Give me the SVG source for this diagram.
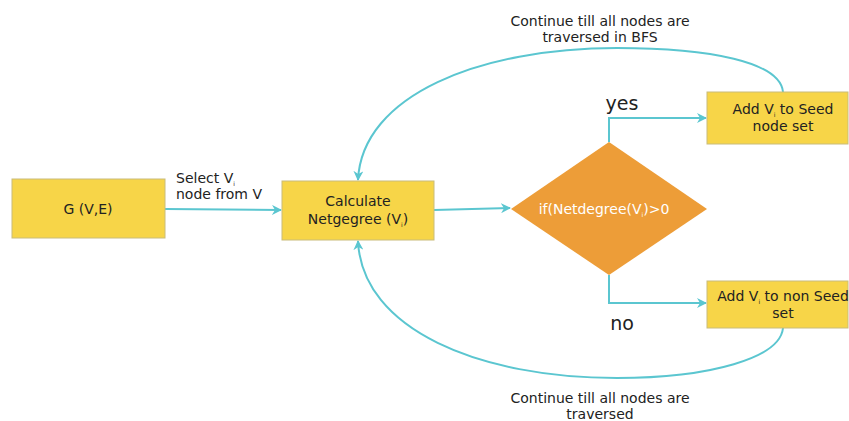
<svg xmlns="http://www.w3.org/2000/svg" width="849" height="421" viewBox="0 0 849 421">
<style>
.box{fill:#F7D548;stroke:#C9BC7A;stroke-width:1}
.dia{fill:#ED9D38;stroke:none}
.t{font-family:"DejaVu Sans",Verdana,sans-serif;font-size:14px;fill:#222;text-anchor:middle}
.w{fill:#fff}
.big{font-family:"DejaVu Sans",Verdana,sans-serif;font-size:19px;fill:#222;text-anchor:middle}
.sub{font-size:6px}
.c{fill:none;stroke:#5BC6D0;stroke-width:2}
</style>
<defs>
<marker id="ah" viewBox="0 0 10 10" refX="9" refY="5" markerWidth="5" markerHeight="5" orient="auto" markerUnits="strokeWidth">
<path d="M0,0 L10,5 L0,10 L3,5 z" fill="#5BC6D0"/>
</marker>
</defs>
<rect width="849" height="421" fill="#fff"/>
<g id="connectors">
<path class="c" d="M165,209 L281,210" marker-end="url(#ah)"/>
<path class="c" d="M434,210 L510,208" marker-end="url(#ah)"/>
<path class="c" d="M609,142 L609,118 L706,118" marker-end="url(#ah)"/>
<path class="c" d="M609,275 L609,303 L706,303" marker-end="url(#ah)"/>
<path class="c" d="M783,92 C780,62 710,48 617,48 C480,48 362,95 358,180" marker-end="url(#ah)"/>
<path class="c" d="M783,328 C780,358 710,378 617,378 C480,378 362,330 358,241" marker-end="url(#ah)"/>
</g>
<g id="labels">
<text class="t" x="176" y="183" style="text-anchor:start">Select V<tspan class="sub" dy="3">i</tspan></text>
<text class="t" x="176" y="199" style="text-anchor:start">node from V</text>
<text class="big" x="622" y="110">yes</text>
<text class="big" x="622" y="330">no</text>
<text class="t" x="600" y="26">Continue till all nodes are<tspan x="600" dy="16">traversed in BFS</tspan></text>
<text class="t" x="600" y="403">Continue till all nodes are<tspan x="600" dy="16">traversed</tspan></text>
</g>
<g id="node-g">
<rect class="box" x="12" y="179" width="153" height="59"/>
<text class="t" x="88" y="214">G (V,E)</text>
</g>
<g id="node-calc">
<rect class="box" x="282" y="181" width="152" height="59"/>
<text class="t" x="358" y="206">Calculate</text>
<text class="t" x="358" y="224">Netgegree (V<tspan class="sub" dy="3">i</tspan><tspan dy="-3">)</tspan></text>
</g>
<g id="node-if">
<polygon class="dia" points="609,142 707,209 609,275 511,209"/>
<text class="t w" x="604" y="214">if(Netdegree(V<tspan class="sub" dy="3">i</tspan><tspan dy="-3">)&gt;0</tspan></text>
</g>
<g id="node-seed">
<rect class="box" x="707" y="92" width="141" height="52"/>
<text class="t" x="783" y="114">Add V<tspan class="sub" dy="3">i</tspan><tspan dy="-3"> to Seed</tspan></text>
<text class="t" x="783" y="131">node set</text>
</g>
<g id="node-nonseed">
<rect class="box" x="707" y="281" width="141" height="47"/>
<text class="t" x="783" y="301">Add V<tspan class="sub" dy="3">i</tspan><tspan dy="-3"> to non Seed</tspan></text>
<text class="t" x="783" y="318">set</text>
</g>
</svg>
